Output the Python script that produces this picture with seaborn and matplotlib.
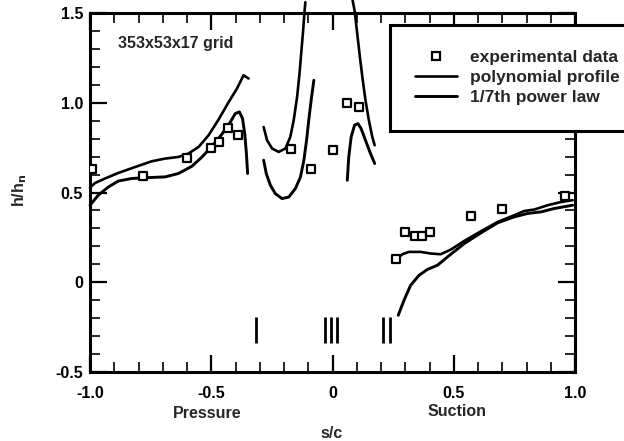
import numpy as np
import pandas as pd
import matplotlib
matplotlib.use("Agg")
import matplotlib.pyplot as plt
import seaborn as sns
from matplotlib.ticker import MultipleLocator, FixedLocator
from matplotlib.lines import Line2D

# ---------------- data ----------------
exp_x = [-0.99, -0.78, -0.60, -0.50, -0.47, -0.43, -0.39, -0.17, -0.09, 0.00, 0.06, 0.11,
         0.26, 0.30, 0.34, 0.37, 0.40, 0.57, 0.70, 0.96]
exp_y = [0.63, 0.59, 0.69, 0.75, 0.78, 0.86, 0.82, 0.74, 0.63, 0.735, 1.00, 0.975,
         0.128, 0.28, 0.26, 0.26, 0.28, 0.37, 0.41, 0.48]

# polynomial profile segments
poly_p_x = [-1.0, -0.979, -0.938, -0.883, -0.814, -0.745, -0.690, -0.635, -0.594, -0.552, -0.511, -0.470, -0.428, -0.394, -0.367, -0.346]
poly_p_y = [0.528, 0.553, 0.578, 0.609, 0.642, 0.674, 0.689, 0.698, 0.717, 0.754, 0.819, 0.906, 1.004, 1.079, 1.153, 1.135]
poly_c1_x = [-0.284, -0.270, -0.249, -0.222, -0.194, -0.174, -0.160, -0.146, -0.136, -0.128, -0.121, -0.116, -0.112]
poly_c1_y = [0.865, 0.791, 0.745, 0.726, 0.745, 0.810, 0.902, 1.032, 1.163, 1.292, 1.404, 1.497, 1.56]
poly_c2_x = [0.083, 0.091, 0.102, 0.113, 0.123, 0.136, 0.150, 0.164, 0.174]
poly_c2_y = [1.57, 1.515, 1.385, 1.255, 1.144, 1.014, 0.902, 0.810, 0.763]
poly_s_x = [0.267, 0.288, 0.315, 0.364, 0.405, 0.446, 0.488, 0.543, 0.612, 0.681, 0.749, 0.791, 0.832, 0.887, 0.942, 0.990]
poly_s_y = [0.132, 0.156, 0.169, 0.169, 0.160, 0.156, 0.182, 0.230, 0.284, 0.336, 0.373, 0.397, 0.405, 0.429, 0.447, 0.457]

# 1/7th power law segments
pow_p_x = [-1.0, -0.966, -0.924, -0.883, -0.828, -0.759, -0.690, -0.635, -0.580, -0.538, -0.497, -0.456, -0.421, -0.401, -0.384, -0.371, -0.362, -0.355, -0.350]
pow_p_y = [0.429, 0.485, 0.531, 0.564, 0.578, 0.583, 0.587, 0.606, 0.646, 0.698, 0.758, 0.825, 0.893, 0.940, 0.949, 0.912, 0.828, 0.717, 0.606]
pow_c1_x = [-0.284, -0.273, -0.256, -0.236, -0.208, -0.180, -0.153, -0.132, -0.118, -0.107, -0.098, -0.088, -0.077]
pow_c1_y = [0.680, 0.605, 0.540, 0.494, 0.466, 0.475, 0.522, 0.587, 0.680, 0.791, 0.902, 1.014, 1.125]
pow_c2_x = [0.061, 0.067, 0.077, 0.091, 0.105, 0.118, 0.136, 0.154, 0.174]
pow_c2_y = [0.568, 0.698, 0.810, 0.875, 0.884, 0.856, 0.791, 0.726, 0.661]
pow_s_x = [0.271, 0.295, 0.322, 0.357, 0.391, 0.433, 0.474, 0.543, 0.612, 0.681, 0.749, 0.804, 0.860, 0.915, 0.990]
pow_s_y = [-0.184, -0.100, -0.017, 0.039, 0.071, 0.095, 0.141, 0.215, 0.275, 0.331, 0.364, 0.383, 0.392, 0.411, 0.429]

slot_x = [-0.314, -0.029, -0.008, 0.017, 0.207, 0.236]

x_ticks = [-1.0, -0.5, 0.0, 0.5, 1.0]
x_labels = ["-1.0", "-0.5", "0", "0.5", "1.0"]
y_ticks = [-0.5, 0.0, 0.5, 1.0, 1.5]
y_labels = ["-0.5", "0", "0.5", "1.0", "1.5"]

# ---------------- style ----------------
sns.set_theme(style="ticks")
plt.rcParams["font.family"] = ["Liberation Sans", "DejaVu Sans"]
plt.rcParams["font.weight"] = "bold"

fig = plt.figure(figsize=(6.24, 4.41), dpi=100)
ax = fig.add_axes([90/624, 1-372/441, 485/624, 359/441])

segments = []
for name, xs, ys in [("poly", poly_p_x, poly_p_y), ("poly", poly_c1_x, poly_c1_y),
                     ("poly", poly_c2_x, poly_c2_y), ("poly", poly_s_x, poly_s_y),
                     ("pow", pow_p_x, pow_p_y), ("pow", pow_c1_x, pow_c1_y),
                     ("pow", pow_c2_x, pow_c2_y), ("pow", pow_s_x, pow_s_y)]:
    segments.append((name, pd.DataFrame({"x": xs, "y": ys})))

for name, df in segments:
    sns.lineplot(data=df, x="x", y="y", ax=ax, sort=False, estimator=None,
                 color="black", linewidth=1.9 if name == "poly" else 2.1)
for line in ax.lines:
    line.set_clip_on(False)

exp_df = pd.DataFrame({"x": exp_x, "y": exp_y})
sns.scatterplot(data=exp_df, x="x", y="y", ax=ax, marker="s", s=34,
                facecolor="white", edgecolor="black", linewidth=1.6, zorder=5)

ax.vlines(slot_x, -0.34, -0.195, colors="black", linewidth=2.0)

ax.set_xlim(-1.0, 1.0)
ax.set_ylim(-0.5, 1.5)
ax.xaxis.set_major_locator(FixedLocator(x_ticks))
ax.yaxis.set_major_locator(FixedLocator(y_ticks))
ax.set_xticklabels(x_labels)
ax.set_yticklabels(y_labels)
ax.xaxis.set_minor_locator(MultipleLocator(0.1))
ax.yaxis.set_minor_locator(MultipleLocator(0.1))
ax.tick_params(which="major", direction="in", length=12, width=1.6, top=True, right=True,
               labelsize=11.5, pad=5, colors="black")
ax.tick_params(axis="x", which="major", pad=10)
ax.tick_params(which="minor", direction="in", length=7, width=1.4, top=True, right=True)
for lab in ax.get_xticklabels() + ax.get_yticklabels():
    lab.set_fontweight("bold")
for sp in ax.spines.values():
    sp.set_linewidth(2.2)
    sp.set_color("black")

ax.set_xlabel("")
ax.set_ylabel("")
fig.text(20/624, 1-190/441, "h/h$_{\\mathbf{n}}$", rotation=90, ha="center", va="center",
         fontsize=11.5, fontweight="bold")
fig.text(207/624, 1-413/441, "Pressure", ha="center", va="center", fontsize=11.5, fontweight="bold")
fig.text(457/624, 1-411/441, "Suction", ha="center", va="center", fontsize=11.5, fontweight="bold")
fig.text(332/624, 1-433/441, "s/c", ha="center", va="center", fontsize=11.5, fontweight="bold")
ax.text(0.058, 0.916, "353x53x17 grid", transform=ax.transAxes, ha="left", va="center",
        fontsize=11.5, fontweight="bold")

handles = [Line2D([], [], marker="s", linestyle="none", markerfacecolor="white",
                  markeredgecolor="black", markeredgewidth=1.6, markersize=6),
           Line2D([], [], color="black", linewidth=1.9),
           Line2D([], [], color="black", linewidth=2.1)]
labels = ["experimental data", "polynomial profile", "1/7th power law"]
leg = fig.legend(handles, labels, loc="upper left", bbox_to_anchor=(390/624, 1-25/441),
                 bbox_transform=fig.transFigure, fancybox=False, frameon=True,
                 edgecolor="black", framealpha=1, fontsize=12.5, handlelength=2.4,
                 handletextpad=0.75, borderpad=1.45, labelspacing=0.28, borderaxespad=0)
leg.get_frame().set_linewidth(2.2)
for t in leg.get_texts():
    t.set_fontweight("bold")

fig.savefig("out.png", dpi=100)
